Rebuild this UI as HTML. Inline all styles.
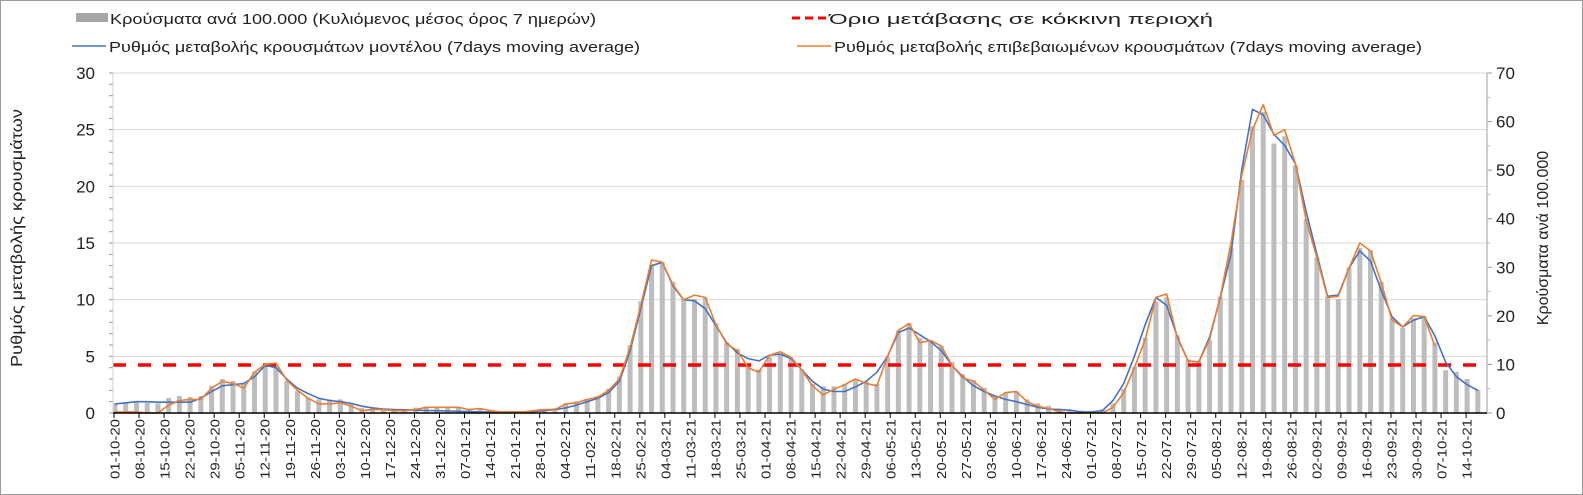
<!DOCTYPE html>
<html><head><meta charset="utf-8"><style>
body{margin:0;background:#fff;}
svg{display:block;font-family:"Liberation Sans",Arial,sans-serif;}
</style></head><body>
<svg id="chart" width="1583" height="495" viewBox="0 0 1583 495">
<rect x="0.5" y="0.5" width="1582" height="494" fill="#fff" stroke="#9a9a9a"/>
<g id="legend">
 <g>
  <rect x="76" y="13" width="32" height="9" fill="#a6a6a6"/>
  <text x="110" y="24" font-size="15" fill="#222" textLength="486" lengthAdjust="spacingAndGlyphs">Κρούσματα ανά 100.000 (Κυλιόμενος μέσος όρος 7 ημερών)</text>
 </g>
 <g>
  <line x1="792" y1="18" x2="826" y2="18" stroke="#ff0000" stroke-width="3" stroke-dasharray="8,5"/>
  <text x="829" y="24" font-size="15" fill="#222" textLength="384" lengthAdjust="spacingAndGlyphs">Όριο μετάβασης σε κόκκινη περιοχή</text>
 </g>
 <g>
  <line x1="72" y1="46" x2="106" y2="46" stroke="#4472c4" stroke-width="1.5"/>
  <text x="109" y="52" font-size="15" fill="#222" textLength="531" lengthAdjust="spacingAndGlyphs">Ρυθμός μεταβολής κρουσμάτων μοντέλου (7days moving average)</text>
 </g>
 <g>
  <line x1="797" y1="46" x2="831" y2="46" stroke="#ed7d31" stroke-width="1.5"/>
  <text x="834" y="52" font-size="15" fill="#222" textLength="588" lengthAdjust="spacingAndGlyphs">Ρυθμός μεταβολής επιβεβαιωμένων κρουσμάτων (7days moving average)</text>
 </g>
</g>
<text x="22" y="238" font-size="16" fill="#222" text-anchor="middle" transform="rotate(-90 22 238)" textLength="258" lengthAdjust="spacingAndGlyphs">Ρυθμός μεταβολής κρουσμάτων</text>
<text x="1548" y="238" font-size="16" fill="#222" text-anchor="middle" transform="rotate(-90 1548 238)">Κρούσματα ανά 100.000</text>
<g id="grid"></g>
<g id="bars"></g>
<g id="lines"></g>
<g id="axes"></g>
</svg>
<script>
const leftTicks=[0,5,10,15,20,25,30];
const rightTicks=[0,10,20,30,40,50,60,70];
const threshold=4.24;
const step=3;
const totalDays=383;
const dateLabels=["01-10-20","08-10-20","15-10-20","22-10-20","29-10-20","05-11-20","12-11-20","19-11-20","26-11-20","03-12-20","10-12-20","17-12-20","24-12-20","31-12-20","07-01-21","14-01-21","21-01-21","28-01-21","04-02-21","11-02-21","18-02-21","25-02-21","04-03-21","11-03-21","18-03-21","25-03-21","01-04-21","08-04-21","15-04-21","22-04-21","29-04-21","06-05-21","13-05-21","20-05-21","27-05-21","03-06-21","10-06-21","17-06-21","24-06-21","01-07-21","08-07-21","15-07-21","22-07-21","29-07-21","05-08-21","12-08-21","19-08-21","26-08-21","02-09-21","09-09-21","16-09-21","23-09-21","30-09-21","07-10-21","14-10-21"];
const modelRate=[0.8,0.9,1.0,1.0,0.95,0.95,0.95,0.95,1.3,1.9,2.4,2.5,2.6,3.2,4.2,4.0,3.0,2.2,1.7,1.3,1.1,1.0,0.85,0.6,0.45,0.35,0.3,0.28,0.25,0.22,0.2,0.18,0.15,0.13,0.1,0.1,0.1,0.1,0.1,0.12,0.2,0.3,0.45,0.7,1.0,1.3,1.8,2.8,5.5,9.2,13.0,13.3,11.2,10.0,9.9,9.2,7.7,6.2,5.3,4.8,4.6,5.1,5.2,4.8,3.8,2.8,2.1,1.9,1.9,2.3,2.8,3.6,5.0,7.1,7.5,6.9,6.3,5.5,4.2,3.2,2.4,1.9,1.5,1.2,1.0,0.75,0.5,0.35,0.3,0.25,0.1,0.1,0.2,1.1,2.6,5.0,7.8,10.2,9.5,6.7,4.6,4.5,6.7,10.2,14.0,21.5,26.8,26.3,24.6,23.6,22.0,17.8,14.0,10.3,10.4,12.8,14.3,13.4,10.8,8.5,7.6,8.2,8.5,6.8,4.5,3.2,2.5,2.0];
const confirmedRate=[0.1,0.1,0.1,0,0,0.7,1.1,1.2,1.2,2.2,2.8,2.6,2.2,3.6,4.3,4.4,2.9,2.0,1.3,0.8,0.8,0.9,0.6,0.2,0.3,0.3,0.2,0.2,0.3,0.5,0.5,0.5,0.5,0.3,0.4,0.2,0.1,0.1,0.1,0.2,0.3,0.3,0.8,0.9,1.2,1.4,2.0,3.0,5.8,9.5,13.5,13.3,11.3,10.0,10.4,10.2,7.8,6.1,5.5,4.0,3.6,5.1,5.4,4.9,3.8,2.4,1.6,2.1,2.5,3.0,2.6,2.4,5.0,7.3,7.9,6.2,6.4,5.9,4.2,3.1,2.8,2.0,1.2,1.8,1.9,1.0,0.6,0.4,0.1,0,0,0,0,0.5,1.8,4.0,6.5,10.2,10.5,6.6,4.6,4.5,6.5,10.3,15.0,21.0,25.0,27.2,24.5,25.0,22.0,17.0,13.7,10.2,10.3,12.8,15.0,14.3,11.5,8.2,7.6,8.6,8.5,5.9];
const casesPer100k=[2.0,2.1,2.2,2.1,2.0,3.1,3.5,3.3,3.5,5.6,7.0,6.6,6.0,8.5,10.0,9.8,6.6,4.5,3.2,2.8,2.8,2.8,2.0,1.0,0.9,0.9,0.7,0.7,1.1,1.3,1.3,1.2,1.1,0.9,0.9,0.5,0.4,0.4,0.4,0.6,0.8,1.0,2.0,2.4,2.9,3.5,5.0,7.5,14.0,23.0,30.5,31.0,27.0,23.5,23.5,23.8,18.5,14.5,13.2,10.0,9.0,11.5,12.2,11.5,9.0,6.0,5.5,5.5,6.0,6.8,6.5,6.0,11.5,17.0,18.5,15.5,15.0,13.8,10.5,8.0,6.8,5.2,3.5,4.2,4.4,2.8,2.0,1.5,0.9,0.6,0.5,0.4,0.8,2.0,5.0,9.5,15.5,23.0,23.8,16.0,11.0,10.8,15.0,24.0,34.0,48.0,59.0,62.0,55.5,57.0,51.0,40.0,32.0,24.0,23.5,30.0,34.0,33.5,27.0,19.5,17.5,19.5,20.0,14.5,8.8,8.5,7.0,4.8];

const NS="http://www.w3.org/2000/svg";
const X0=115, PX_DAY=3.577, PLOT_L=113, PLOT_R=1487, Y0=413, YTOP=73;
function xDay(i){return X0+PX_DAY*i;}
function yLeft(v){return Y0-(v/30)*(Y0-YTOP);}
function yRight(v){return Y0-(v/70)*(Y0-YTOP);}
function mk(tag,attrs,parent){const e=document.createElementNS(NS,tag);for(const k in attrs)e.setAttribute(k,attrs[k]);parent.appendChild(e);return e;}

const grid=document.getElementById('grid');
leftTicks.forEach(t=>{
  if(t===0)return;
  const g=mk('line',{x1:PLOT_L,x2:PLOT_R,y1:yLeft(t),y2:yLeft(t),stroke:'#d9d9d9','stroke-width':1},grid);
  
  
});
const axes=document.getElementById('axes');
leftTicks.forEach(t=>{
  const tx=mk('text',{x:95,y:yLeft(t)+6,'font-size':17,'text-anchor':'end',fill:'#222'},axes);
  tx.textContent=t;
  
  
});
for(let v=0;v<=30;v+=1){mk('line',{x1:PLOT_L-4,x2:PLOT_L,y1:yLeft(v),y2:yLeft(v),stroke:'#999'},axes);}
rightTicks.forEach(t=>{
  const tx=mk('text',{x:1496,y:yRight(t)+6,'font-size':17,'text-anchor':'start',fill:'#222'},axes);
  tx.textContent=t;
  
  
  mk('line',{x1:PLOT_R,x2:PLOT_R+5,y1:yRight(t),y2:yRight(t),stroke:'#999'},axes);
});
for(let v=5;v<70;v+=10){mk('line',{x1:PLOT_R,x2:PLOT_R+3,y1:yRight(v),y2:yRight(v),stroke:'#bbb'},axes);}
mk('line',{x1:PLOT_L,x2:PLOT_L,y1:YTOP,y2:Y0,stroke:'#d0d0d0'},axes);
mk('line',{x1:PLOT_R,x2:PLOT_R,y1:YTOP,y2:Y0,stroke:'#bdbdbd','stroke-width':1.5},axes);
mk('line',{x1:PLOT_L,x2:PLOT_R,y1:Y0,y2:Y0,stroke:'#000','stroke-width':1.5},axes);
dateLabels.forEach((d,k)=>{
  const x=xDay(k*7);
  mk('line',{x1:x-1,x2:x-1,y1:Y0,y2:Y0+5,stroke:'#000'},axes);
  const tx=mk('text',{x:0,y:0,'font-size':12.5,'text-anchor':'end',fill:'#222',textLength:60,lengthAdjust:'spacingAndGlyphs',transform:`translate(${x+4.5},${Y0+6}) rotate(-90)`},axes);
  tx.textContent=d;
  
  
});

const bars=document.getElementById('bars');
casesPer100k.forEach((v,k)=>{
  const x=xDay(k*step);
  const b=mk('rect',{x:x-2.5,y:yRight(v),width:5,height:Y0-yRight(v),fill:'#bdbdbd'},bars);
  
  
});

const lines=document.getElementById('lines');
const thr=mk('line',{x1:xDay(0)-2,x2:xDay(totalDays)-8,y1:yLeft(threshold),y2:yLeft(threshold),stroke:'#ff0000','stroke-width':3.5,'stroke-dasharray':'13,12'},lines);


function path(arr,color,name){
  const d=arr.map((v,k)=>(k?'L':'M')+xDay(k*step).toFixed(1)+','+yLeft(v).toFixed(1)).join(' ');
  const p=mk('path',{d:d,fill:'none',stroke:color,'stroke-width':1.6,'stroke-linejoin':'round'},lines);
  
  
}
path(modelRate,'#4472c4','model-rate-line');
path(confirmedRate,'#ed7d31','confirmed-rate-line');
</script>
</body></html>
